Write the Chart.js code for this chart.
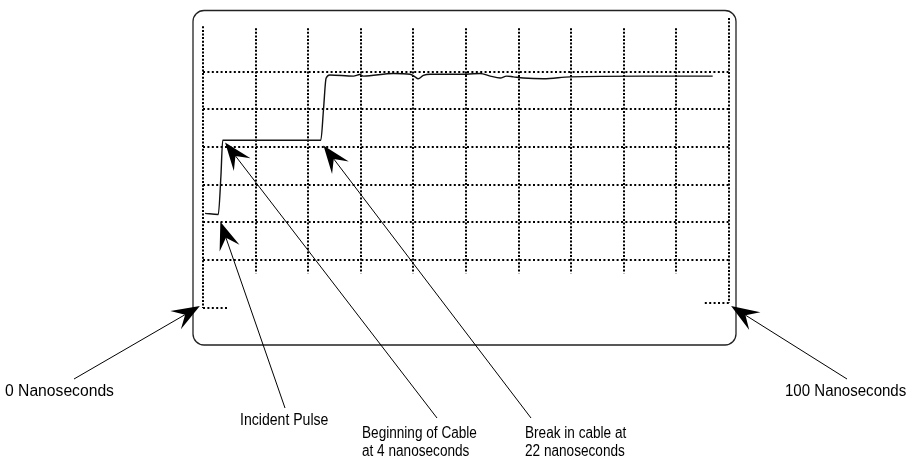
<!DOCTYPE html>
<html>
<head>
<meta charset="utf-8">
<script src="https://cdn.jsdelivr.net/npm/chart.js@4/dist/chart.umd.min.js"></script>
<style>
  html, body { margin: 0; padding: 0; background: #fff; }
  #wrap { width: 921px; height: 457px; position: relative; }
</style>
</head>
<body>
<div id="wrap"><canvas id="tdrChart"></canvas></div>
<script>
// TDR trace: time in nanoseconds, level in graticule divisions
const tiempos = [0.4, 2.9, 3.4, 3.75, 22.4, 22.9, 23.4, 24.1, 28.6, 29.8, 30.5, 36.2, 39.4, 40.3, 40.9, 41.9,
                 43.2, 50.1, 52.7, 54.6, 56.5, 57.7, 59.0, 60.9, 64.7, 69.8, 83.7, 96.9];
const niveles = [2.24, 2.21, 3.21, 4.18, 4.18, 4.98, 5.82, 5.91, 5.88, 5.92, 5.88, 5.95, 5.93, 5.86, 5.81, 5.90,
                 5.93, 5.93, 5.95, 5.88, 5.83, 5.88, 5.86, 5.83, 5.81, 5.86, 5.88, 5.88];

// Graticule: 10 horizontal divisions (0-100 ns), six horizontal rules
const divisionesX = [0, 10, 20, 30, 40, 50, 60, 70, 80, 90, 100];
const divisionesY = [1, 2, 3, 4, 5, 6];

// Callouts: text lines and the point (ns, level) each arrow points to
const notas = [
  { texto: ['0 Nanoseconds'], destino: [-0.6, -0.22] },
  { texto: ['Incident Pulse'], destino: [3.3, 2.02] },
  { texto: ['Beginning of Cable', 'at 4 nanoseconds'], destino: [4.2, 4.12] },
  { texto: ['Break in cable at', '22 nanoseconds'], destino: [22.9, 4.04] },
  { texto: ['100 Nanoseconds'], destino: [100.4, -0.22] }
];

// where each callout's text sits, how narrow it is set, and where its arrow leaves the text (canvas px)
const posNotas = [
  { x: 5, y: 392, ancho: 0.98, cola: [74, 379] },
  { x: 240, y: 421, ancho: 0.88, cola: [285, 408] },
  { x: 362, y: 434, ancho: 0.85, cola: [437, 418] },
  { x: 525, y: 434, ancho: 0.85, cola: [531, 418] },
  { x: 785, y: 392, ancho: 0.94, cola: [847, 379] }
];

function flecha(ctx, x0, y0, x1, y1) {
  const ang = Math.atan2(y1 - y0, x1 - x0);
  const largo = 28, ancho = 10.5, muesca = 17;
  ctx.beginPath();
  ctx.moveTo(x0, y0);
  ctx.lineTo(x1 - muesca * Math.cos(ang), y1 - muesca * Math.sin(ang));
  ctx.stroke();
  ctx.save();
  ctx.translate(x1, y1);
  ctx.rotate(ang);
  ctx.beginPath();
  ctx.moveTo(0, 0);
  ctx.lineTo(-largo, -ancho);
  ctx.lineTo(-muesca, 0);
  ctx.lineTo(-largo, ancho);
  ctx.closePath();
  ctx.fill();
  ctx.restore();
}

// dotted graticule, drawn under the trace
const reticula = {
  id: 'reticula',
  beforeDatasetsDraw(chart) {
    const { ctx, scales: { x, y } } = chart;
    ctx.save();
    ctx.strokeStyle = '#000';
    ctx.lineWidth = 2;

    ctx.setLineDash([2, 2.4]);
    divisionesY.forEach(v => {
      const py = Math.round(y.getPixelForValue(v));
      ctx.beginPath();
      ctx.moveTo(x.getPixelForValue(0), py);
      ctx.lineTo(x.getPixelForValue(100), py);
      ctx.stroke();
    });
    // short marks at the bottom corners
    [[0, 4.8, -0.27], [95.4, 100, -0.14]].forEach(([a, b, v]) => {
      const py = Math.round(y.getPixelForValue(v));
      ctx.beginPath();
      ctx.moveTo(x.getPixelForValue(a), py);
      ctx.lineTo(x.getPixelForValue(b), py);
      ctx.stroke();
    });

    ctx.setLineDash([2, 1.6]);
    divisionesX.forEach((v, i) => {
      let desde = 0.65, hasta = 7.15;
      if (i === 0) { desde = -0.27; hasta = 7.2; }
      if (i === divisionesX.length - 1) { desde = -0.14; hasta = 7.42; }
      const px = Math.round(x.getPixelForValue(v));
      ctx.beginPath();
      ctx.moveTo(px, y.getPixelForValue(hasta));
      ctx.lineTo(px, y.getPixelForValue(desde));
      ctx.stroke();
    });
    ctx.restore();
  },
  afterDraw(chart) {
    const { ctx, chartArea: a, scales: { x, y } } = chart;
    ctx.save();
    // screen bezel
    ctx.strokeStyle = '#222';
    ctx.lineWidth = 1.3;
    ctx.beginPath();
    ctx.roundRect(a.left - 10, a.top - 7.5, a.right - a.left + 17, a.bottom - a.top + 44.5, 11);
    ctx.stroke();

    // callouts
    ctx.fillStyle = '#000';
    ctx.strokeStyle = '#000';
    ctx.lineWidth = 1;
    ctx.font = '16px "Liberation Sans", Arial, sans-serif';
    ctx.textBaseline = 'middle';
    notas.forEach((n, i) => {
      const p = posNotas[i];
      n.texto.forEach((t, k) => {
        ctx.save();
        ctx.translate(p.x, p.y + k * 18);
        ctx.scale(p.ancho, 1);
        ctx.fillText(t, 0, 0);
        ctx.restore();
      });
      flecha(ctx, p.cola[0], p.cola[1], x.getPixelForValue(n.destino[0]), y.getPixelForValue(n.destino[1]));
    });
    ctx.restore();
  }
};

const tdrChart = new Chart(document.getElementById('tdrChart'), {
  type: 'line',
  data: {
    datasets: [{
      data: tiempos.map((t, i) => ({ x: t, y: niveles[i] })),
      borderColor: '#111',
      borderWidth: 1.4,
      pointRadius: 0,
      cubicInterpolationMode: 'monotone',
      fill: false
    }]
  },
  options: {
    responsive: true,
    maintainAspectRatio: false,
    animation: false,
    layout: { padding: { left: 203, right: 192, top: 18, bottom: 149 } },
    plugins: { legend: { display: false }, tooltip: { enabled: false } },
    scales: {
      x: { type: 'linear', min: 0, max: 100, display: false },
      y: { min: -0.27, max: 7.42, display: false }
    }
  },
  plugins: [reticula]
});
</script>
</body>
</html>
